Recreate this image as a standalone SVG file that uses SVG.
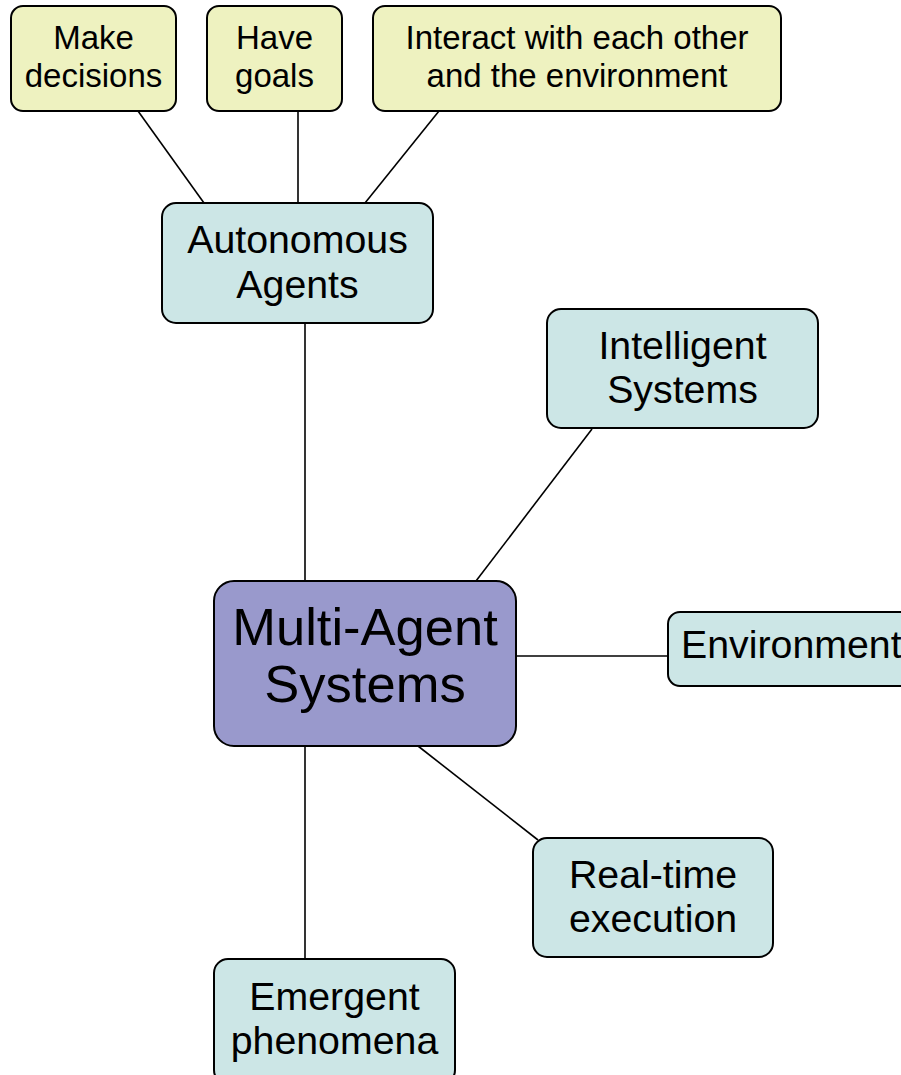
<svg xmlns="http://www.w3.org/2000/svg" width="901" height="1075" viewBox="0 0 901 1075">
<style>
.box{stroke:#000;stroke-width:2}
.y{fill:#EEF2C0}
.t{fill:#CCE6E6}
.p{fill:#9999CC}
text{font-family:"Liberation Sans",Arial,sans-serif;fill:#000;text-anchor:middle}
.s1{font-size:33px}
.s2{font-size:39.3px}
.s3{font-size:52.5px}
.c line{stroke:#000;stroke-width:1.6}
</style>
<rect width="901" height="1075" fill="#fff"/>
<g id="connectors" class="c">
<line x1="138" y1="111" x2="204" y2="203"/>
<line x1="298" y1="111" x2="298" y2="203"/>
<line x1="439" y1="111" x2="365" y2="203"/>
<line x1="305" y1="323" x2="305" y2="581"/>
<line x1="592" y1="429" x2="476" y2="581"/>
<line x1="516" y1="656" x2="668" y2="656"/>
<line x1="418" y1="746" x2="538" y2="840"/>
<line x1="305" y1="746" x2="305" y2="959"/>
</g>
<g id="make-decisions">
<rect class="box y" x="11" y="6" width="165" height="105" rx="12"/>
<text class="s1" x="93.5" y="49">Make</text>
<text class="s1" x="93.5" y="87">decisions</text>
</g>
<g id="have-goals">
<rect class="box y" x="207" y="6" width="135" height="105" rx="12"/>
<text class="s1" x="274.5" y="49">Have</text>
<text class="s1" x="274.5" y="87">goals</text>
</g>
<g id="interact">
<rect class="box y" x="373" y="6" width="408" height="105" rx="12"/>
<text class="s1" x="577" y="49">Interact with each other</text>
<text class="s1" x="577" y="87">and the environment</text>
</g>
<g id="autonomous-agents">
<rect class="box t" x="162" y="203" width="271" height="120" rx="14"/>
<text class="s2" x="297.5" y="253">Autonomous</text>
<text class="s2" x="297.5" y="298">Agents</text>
</g>
<g id="intelligent-systems">
<rect class="box t" x="547" y="309" width="271" height="119" rx="14"/>
<text class="s2" x="682.5" y="359">Intelligent</text>
<text class="s2" x="682.5" y="403">Systems</text>
</g>
<g id="multi-agent-systems">
<rect class="box p" x="214" y="581" width="302" height="165" rx="20"/>
<text class="s3" x="365" y="645">Multi-Agent</text>
<text class="s3" x="365" y="702">Systems</text>
</g>
<g id="environment">
<rect class="box t" x="668" y="612" width="250" height="74" rx="12"/>
<text class="s2" x="681" y="658" style="text-anchor:start">Environment</text>
</g>
<g id="real-time-execution">
<rect class="box t" x="533" y="838" width="240" height="119" rx="14"/>
<text class="s2" x="653" y="888">Real-time</text>
<text class="s2" x="653" y="932">execution</text>
</g>
<g id="emergent-phenomena">
<rect class="box t" x="214" y="959" width="241" height="125" rx="14"/>
<text class="s2" x="334.5" y="1010">Emergent</text>
<text class="s2" x="334.5" y="1054">phenomena</text>
</g>
</svg>
